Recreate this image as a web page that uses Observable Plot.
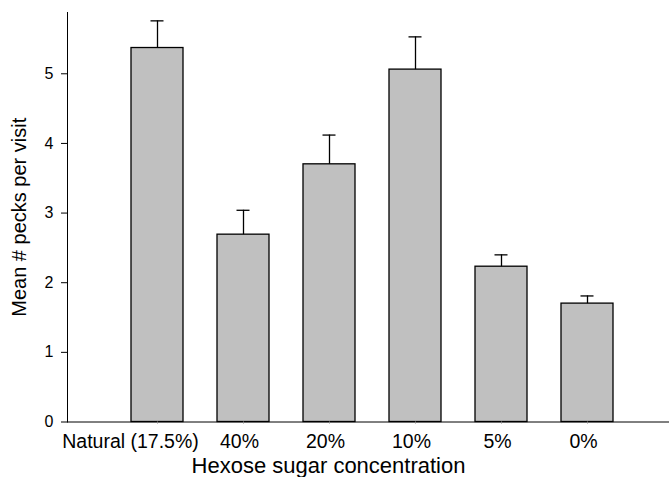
<!DOCTYPE html>
<html>
<head>
<meta charset="utf-8">
<script src="https://cdn.jsdelivr.net/npm/d3@7"></script>
<script src="https://cdn.jsdelivr.net/npm/@observablehq/plot@0.6"></script>
<style>
  html, body { margin: 0; padding: 0; background: #fff; }
</style>
</head>
<body>
<div id="chart"></div>
<script>
const categories = ["Natural (17.5%)", "40%", "20%", "10%", "5%", "0%"];
const means = [5.37, 2.69, 3.70, 5.06, 2.23, 1.70];
const errors = [0.39, 0.35, 0.42, 0.47, 0.17, 0.11];
const yTicks = [0, 1, 2, 3, 4, 5];
const xTitle = "Hexose sugar concentration";
const yTitle = "Mean # pecks per visit";

const data = categories.map((c, i) => ({cat: c, mean: means[i], top: means[i] + errors[i]}));

const chart = Plot.plot({
  width: 669,
  height: 477,
  marginLeft: 67,
  marginRight: 0,
  marginTop: 12,
  marginBottom: 55.5,
  style: {fontFamily: "'Liberation Sans', Arial, sans-serif", color: "#000", background: "#fff"},
  x: {type: "band", domain: categories, range: [128.5, 614.7], paddingInner: 0.401, paddingOuter: 0},
  y: {domain: [0, 5.88]},
  marks: [
    Plot.barY(data, {x: "cat", y: "mean", fill: "#c0c0c0", stroke: "#000", strokeWidth: 1.3}),
    Plot.ruleX(data, {x: "cat", y1: "mean", y2: "top", stroke: "#000", strokeWidth: 1.3}),
    Plot.tickY(data, {x: "cat", y: "top", stroke: "#000", strokeWidth: 1.3, insetLeft: 19.5, insetRight: 19.5}),
    Plot.ruleY([0], {stroke: "#000", strokeWidth: 1}),
    Plot.frame({anchor: "left", stroke: "#000", strokeWidth: 1}),
    Plot.axisY({ticks: yTicks, tickSize: 6, tickPadding: 8, fontSize: 16, label: null, tickFormat: d => String(d)}),
    Plot.axisX({tickSize: 2, text: null, label: null, stroke: "#888"}),
    Plot.axisX(categories.slice(0, 1), {tickSize: 0, tickPadding: 12, fontSize: 19.5, label: null, dx: -27}),
    Plot.axisX(categories.slice(1), {tickSize: 0, tickPadding: 12, fontSize: 19.5, label: null, dx: -4}),
    Plot.text([xTitle], {frameAnchor: "bottom", dx: -40, dy: 43.5, textAnchor: "middle", lineAnchor: "middle", fontSize: 22, text: d => d}),
    Plot.text([yTitle], {frameAnchor: "left", dx: -47.5, dy: 0, rotate: -90, textAnchor: "middle", lineAnchor: "middle", fontSize: 20, text: d => d})
  ]
});
document.getElementById("chart").appendChild(chart);
</script>
</body>
</html>
